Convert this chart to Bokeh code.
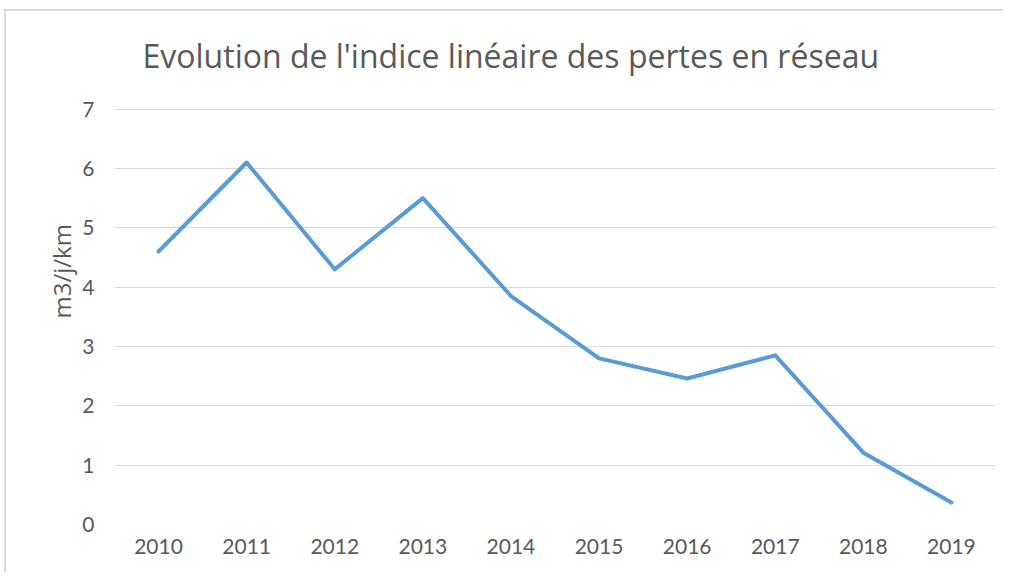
from bokeh.plotting import figure
from bokeh.models import Title, Range1d, FactorRange
from bokeh.embed import file_html
from bokeh.resources import INLINE

years = ["2010", "2011", "2012", "2013", "2014", "2015", "2016", "2017", "2018", "2019"]
values = [4.60, 6.10, 4.30, 5.50, 3.85, 2.80, 2.46, 2.85, 1.21, 0.37]
y_ticks = [0, 1, 2, 3, 4, 5, 6, 7]
title_text = "Evolution de l'indice linéaire des pertes en réseau"
y_label = "m3/j/km"

TEXT = "#595959"
FONT = "Lato"

p = figure(width=1003, height=572,
           x_range=FactorRange(*years, range_padding=0),
           y_range=Range1d(0, 7.01),
           output_backend="svg", toolbar_location=None,
           min_border_left=114, min_border_right=8,
           min_border_top=108, min_border_bottom=48)

# light chart-area frame (left and top edges visible in the reference)
p.border_fill_color = None
p.styles = {
    "background-color": "white",
    "background-image": "linear-gradient(#D9D9D9, #D9D9D9), linear-gradient(#D9D9D9, #D9D9D9)",
    "background-size": "2px 100%, 100% 2px",
    "background-position": "4px 9px, 4px 9px",
    "background-repeat": "no-repeat",
}

p.title = Title(text=title_text, align="left", offset=28, standoff=63,
                text_font="Open Sans", text_font_size="32px", text_color=TEXT,
                text_font_style="normal")

p.add_layout(Title(text=y_label, align="left", offset=206, standoff=4,
                   text_font="Open Sans", text_font_size="24px",
                   text_color=TEXT, text_font_style="normal"), "left")

p.line(years, values, line_color="#5B9BD5", line_width=4,
       line_cap="round", line_join="round")

p.outline_line_color = None
p.xgrid.visible = False
p.ygrid.grid_line_color = "#D9D9D9"
p.ygrid.grid_line_width = 1
p.yaxis.ticker = y_ticks

for ax in (p.xaxis[0], p.yaxis[0]):
    ax.axis_line_color = None
    ax.major_tick_line_color = None
    ax.minor_tick_line_color = None
    ax.major_tick_in = 0
    ax.major_tick_out = 0
    ax.minor_tick_out = 0
    ax.major_label_text_font = FONT
    ax.major_label_text_font_size = "21px"
    ax.major_label_text_color = TEXT

p.yaxis.major_label_standoff = 20
p.xaxis.major_label_standoff = 14

open("out.html", "w").write(file_html(p, INLINE))
